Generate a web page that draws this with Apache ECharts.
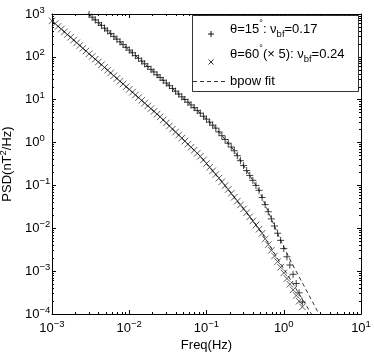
<!DOCTYPE html>
<html>
<head>
<meta charset="utf-8">
<script src="https://cdn.jsdelivr.net/npm/echarts@6/dist/echarts.min.js"></script>
<style>
  html, body { margin: 0; padding: 0; background: #fff; }
  #myChart { width: 374px; height: 353px; }
</style>
</head>
<body>
<div id="myChart"></div>
<script>
  // frequency bins (Hz), shared by both spectra
  var freq = [
    0.001, 0.0011, 0.0012, 0.00132, 0.00145, 0.00158, 0.00174, 0.00191, 0.00209, 0.00229,
    0.00251, 0.00275, 0.00302, 0.00331, 0.00363, 0.00398, 0.00437, 0.00479, 0.00525, 0.00575,
    0.00631, 0.00692, 0.00759, 0.00832, 0.00912,
    0.01, 0.011, 0.012, 0.0132, 0.0145, 0.0158, 0.0174, 0.0191, 0.0209, 0.0229,
    0.0251, 0.0275, 0.0302, 0.0331, 0.0363, 0.0398, 0.0437, 0.0479, 0.0525, 0.0575,
    0.0631, 0.0692, 0.0759, 0.0832, 0.0912,
    0.1, 0.11, 0.12, 0.132, 0.145, 0.158, 0.174, 0.191, 0.209, 0.229,
    0.251, 0.275, 0.302, 0.331, 0.363, 0.398, 0.437, 0.479, 0.525, 0.575,
    0.631, 0.692, 0.759, 0.832, 0.912,
    1.0, 1.1, 1.2, 1.32, 1.45, 1.58, 1.74
  ];

  // theta = 60 deg (x5), starts at 0.001 Hz
  var psd60 = [
    692, 597, 515, 445, 384, 331, 286, 247, 213, 184,
    158, 137, 118, 102, 87.9, 75.9, 65.5, 56.5, 48.8, 42.1,
    36.3, 31.3, 27.0, 23.3, 20.1, 17.4, 15.0, 12.9, 11.2, 9.64,
    8.32, 7.18, 6.20, 5.35, 4.61, 3.98, 3.38, 2.87, 2.44, 2.07,
    1.76, 1.50, 1.27, 1.08, 0.918, 0.780, 0.662, 0.562, 0.479, 0.394,
    0.324, 0.266, 0.219, 0.180, 0.148, 0.122, 0.0991, 0.0804, 0.0653, 0.0530,
    0.0431, 0.0350, 0.0284, 0.0231, 0.0185, 0.0148, 0.0119, 0.00953, 0.00764, 0.00564,
    0.00416, 0.00307, 0.00226, 0.00167, 0.00123, 0.000910, 0.000671, 0.000495, 0.000366, 0.000270,
    0.000199, 0.000147
  ];

  // theta = 15 deg, starts at freq[12] (first point below 10^3)
  var psd15 = [
    977, 844, 728, 628, 542, 468, 404, 348, 301, 259,
    224, 193, 167, 144, 124, 107, 92.5, 79.8, 68.9, 59.4,
    51.3, 44.3, 38.2, 33.0, 28.4, 24.5, 21.2, 18.3, 15.8, 13.6,
    11.7, 10.1, 8.75, 7.55, 6.52, 5.62, 4.85, 4.13, 3.52, 2.99,
    2.55, 2.17, 1.77, 1.45, 1.18, 0.964, 0.787, 0.643, 0.493, 0.378,
    0.290, 0.222, 0.171, 0.131, 0.100, 0.0769, 0.0524, 0.0356, 0.0243, 0.0166,
    0.0113, 0.00767, 0.00522, 0.00336, 0.00216, 0.00139, 0.000843, 0.000513, 0.000312, 0.000190
  ];
  var freq15 = freq.slice(12);

  // bpow fit curves
  var fitFreq15 = [0.00251, 0.0832, 0.132, 0.229, 0.331, 0.479, 0.692, 0.912, 1.26, 3.02];
  var fit15 = [1312, 4.85, 2.17, 0.643, 0.222, 0.0769, 0.0166, 0.00522, 0.00158, 0.0000832];
  var fitFreq60 = [0.001, 0.0251, 0.0832, 0.158, 0.331, 0.525, 1.0, 2.51];
  var fit60 = [692, 3.98, 0.479, 0.122, 0.0231, 0.00764, 0.00114, 0.0000753];

  // decade tick exponents
  var xTickExps = [-3, -2, -1, 0, 1];
  var yTickExps = [-4, -3, -2, -1, 0, 1, 2, 3];

  // legend texts
  var legendTexts = [
    '{b|θ=15}{s|°}{b|: ν}{u|bf}{b|=0.17}',
    '{b|θ=60}{s|°}{b|(× 5): ν}{u|bf}{b|=0.24}',
    '{b|bpow fit}'
  ];

  var FONT = '"Liberation Sans", Arial, Helvetica, sans-serif';

  function pairs(xs, ys) {
    return xs.map(function (x, i) { return [x, ys[i]]; });
  }
  function supText(e) {
    return e < 0 ? '\u2212' + (-e) : String(e);
  }
  function decadeLabel(exps) {
    return function (v) {
      var l = Math.log10(v);
      for (var i = 0; i < exps.length; i++) {
        if (Math.abs(l - exps[i]) < 1e-6) return '{b|10}{s|' + supText(exps[i]) + '}';
      }
      return '';
    };
  }
  function majorValues(exps) {
    return exps.map(function (e) { return Math.pow(10, e); });
  }
  function minorValues(exps) {
    var out = [];
    for (var i = 0; i < exps.length - 1; i++) {
      for (var m = 2; m <= 9; m++) out.push(m * Math.pow(10, exps[i]));
    }
    return out;
  }

  var tickRich = {
    b: {fontFamily: FONT, fontSize: 13, lineHeight: 18, color: '#000'},
    s: {fontFamily: FONT, fontSize: 9.5, lineHeight: 9, verticalAlign: 'top', color: '#000'}
  };

  // rich styles for the legend box (zrender style names, graphic component)
  var legendRich = {
    b: {fontFamily: FONT, fontSize: 13, lineHeight: 20, fill: '#000'},
    s: {fontFamily: FONT, fontSize: 9, fill: '#000', verticalAlign: 'top'},
    u: {fontFamily: FONT, fontSize: 9.5, fill: '#000', verticalAlign: 'bottom'}
  };

  function logAxis(pos, exps, isMajor, extra) {
    var a = {
      type: 'log',
      logBase: 10,
      min: Math.pow(10, exps[0]),
      max: Math.pow(10, exps[exps.length - 1]),
      position: pos,
      axisLine: {show: isMajor, onZero: false, lineStyle: {color: '#000', width: 1}},
      axisTick: {
        show: true, inside: true, length: isMajor ? 4 : 2,
        customValues: isMajor ? majorValues(exps) : minorValues(exps),
        lineStyle: {color: '#000', width: 1}
      },
      axisLabel: {show: false},
      splitLine: {show: false},
      minorTick: {show: false},
      minorSplitLine: {show: false}
    };
    return Object.assign(a, extra || {});
  }

  function legendText(i, y) {
    return {
      type: 'text', x: 230, y: y, z: 101,
      style: {text: legendTexts[i], rich: legendRich, align: 'left', verticalAlign: 'middle',
              fontFamily: FONT, fontSize: 13, fill: '#000'}
    };
  }
  function stroke(x1, y1, x2, y2, color, dash) {
    return {
      type: 'line', z: 101,
      shape: {x1: x1, y1: y1, x2: x2, y2: y2},
      style: {stroke: color, lineWidth: dash ? 0.8 : 1, lineDash: dash || null}
    };
  }

  var myChart = echarts.init(document.getElementById('myChart'));

  myChart.setOption({
    animation: false,
    backgroundColor: '#fff',
    grid: {left: 52, right: 13, top: 14, bottom: 39, containLabel: false, outerBoundsMode: 'none'},
    graphic: [
      {
        type: 'rect', z: 100,
        shape: {x: 192.5, y: 15.5, width: 166, height: 76},
        style: {fill: '#fff', stroke: '#000', lineWidth: 0.8}
      },
      legendText(0, 29),
      legendText(1, 54),
      legendText(2, 81),
      // legend sample for '+'
      stroke(208, 34, 214, 34, '#111'),
      stroke(211, 31, 211, 37, '#111'),
      // legend sample for 'x'
      stroke(208.5, 59.5, 213.5, 64.5, '#333'),
      stroke(208.5, 64.5, 213.5, 59.5, '#333'),
      // legend sample for the fit
      stroke(193, 81.5, 228, 81.5, '#000', [4, 3])
    ],
    xAxis: [
      logAxis('bottom', xTickExps, true, {
        axisLabel: {
          show: true, margin: 5, customValues: majorValues(xTickExps),
          formatter: decadeLabel(xTickExps), rich: tickRich
        },
        name: 'Freq(Hz)',
        nameLocation: 'middle',
        nameGap: 22,
        nameTextStyle: {fontFamily: FONT, fontSize: 13, color: '#000'}
      }),
      logAxis('bottom', xTickExps, false),
      logAxis('top', xTickExps, true),
      logAxis('top', xTickExps, false)
    ],
    yAxis: [
      logAxis('left', yTickExps, true, {
        axisLabel: {
          show: true, margin: 27, align: 'left', customValues: majorValues(yTickExps),
          formatter: decadeLabel(yTickExps), rich: tickRich
        },
        name: '{b|PSD(nT}{s|2}{b|/Hz)}',
        nameLocation: 'middle',
        nameGap: 33,
        nameTextStyle: {fontFamily: FONT, fontSize: 13, color: '#000', rich: tickRich}
      }),
      logAxis('left', yTickExps, false),
      logAxis('right', yTickExps, true),
      logAxis('right', yTickExps, false)
    ],
    series: [
      {
        name: 'θ=15°',
        type: 'scatter',
        xAxisIndex: 0,
        yAxisIndex: 0,
        symbol: 'path://M5,0L5,10M0,5L10,5',
        symbolSize: 7,
        itemStyle: {color: 'transparent', borderColor: '#111', borderWidth: 1},
        data: pairs(freq15, psd15)
      },
      {
        name: 'θ=60°(× 5)',
        type: 'scatter',
        xAxisIndex: 0,
        yAxisIndex: 0,
        symbol: 'path://M0,0L10,10M10,0L0,10',
        symbolSize: 6.5,
        itemStyle: {color: 'transparent', borderColor: '#333', borderWidth: 1},
        data: pairs(freq, psd60)
      },
      {
        name: 'bpow fit',
        type: 'line',
        xAxisIndex: 0,
        yAxisIndex: 0,
        symbol: 'none',
        smooth: false,
        lineStyle: {color: '#000', width: 0.8, type: [4, 3]},
        data: pairs(fitFreq15, fit15)
      },
      {
        name: 'bpow fit',
        type: 'line',
        xAxisIndex: 0,
        yAxisIndex: 0,
        symbol: 'none',
        smooth: false,
        lineStyle: {color: '#000', width: 0.8, type: [4, 3]},
        data: pairs(fitFreq60, fit60)
      }
    ]
  });
</script>
</body>
</html>
